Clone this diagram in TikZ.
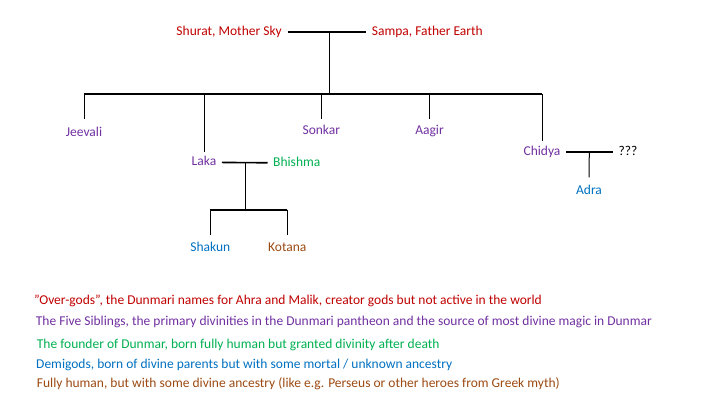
\documentclass[tikz,border=0pt]{standalone}
\usepackage{fontspec}
\setmainfont{Carlito}
\usetikzlibrary{calc}

\definecolor{overgod}{HTML}{C00000}
\definecolor{sibling}{HTML}{7030A0}
\definecolor{founder}{HTML}{00B050}
\definecolor{demigod}{HTML}{0070C0}
\definecolor{human}{HTML}{9C4A12}

\begin{document}
\begin{tikzpicture}[x=1pt, y=-1pt,
    every node/.style={font=\fontsize{13.5}{16}\selectfont, inner sep=1.5pt, text height=10pt, text depth=3pt},
    marriage/.style={line width=1.6pt, shorten <=4pt, shorten >=4pt},
    bar/.style={line width=1.6pt},
    drop/.style={line width=1pt, shorten >=4pt}]

    \useasboundingbox (0,0) rectangle (720,405);

    % Over-gods
    \node[overgod, anchor=east] (shurat) at (283.5,32) {Shurat, Mother Sky};
    \node[overgod, anchor=west] (sampa) at (370.2,32) {Sampa, Father Earth};
    \draw[marriage] (shurat) -- (sampa);

    \coordinate (skymid) at (329.3,32);
    \coordinate (sibbar) at (329.3,93.7);

    % The five siblings
    \node[sibling] (jeevali) at (84,132.7) {Jeevali};
    \node[sibling] (laka)    at (204,162.3) {Laka};
    \node[sibling] (sonkar)  at (321.3,130.7) {Sonkar};
    \node[sibling] (aagir)   at (429.5,130.7) {Aagir};
    \node[sibling] (chidya)  at (542,151.7) {Chidya};

    \draw[line width=1pt] (skymid) -- (sibbar);
    \draw[bar] (jeevali |- sibbar) -- (chidya |- sibbar);
    \foreach \sib/\gap in {jeevali/5.5pt, laka/2.5pt, sonkar/3.5pt, aagir/3.5pt, chidya/3pt}
        \draw[drop, shorten >=\gap] (\sib |- sibbar) -- (\sib.north);

    % Laka and Bhishma
    \node[founder, anchor=west] (bhishma) at (271.5,163) {Bhishma};
    \draw[marriage] (laka) -- (bhishma);

    \coordinate (lakamid) at (245.3,163);
    \coordinate (kidbar) at (245.3,209.7);
    \draw[line width=1.3pt] (lakamid) -- (kidbar);

    \node[demigod] (shakun) at (210.3,247.7) {Shakun};
    \node[human]   (kotana) at (287.3,247.7) {Kotana};
    \draw[bar] (shakun |- kidbar) -- (kotana |- kidbar);
    \draw[drop, line width=1.3pt, shorten >=4.4pt] (shakun |- kidbar) -- (shakun.north);
    \draw[drop, line width=1.3pt, shorten >=4.4pt] (kotana |- kidbar) -- (kotana.north);

    % Chidya and the unknown partner
    \node[anchor=west] (unknown) at (616.8,151.7) {???};
    \draw[marriage] (chidya) -- (unknown);

    \coordinate (chidyamid) at (589.3,151.7);
    \node[demigod] (adra) at (589,191) {Adra};
    \draw[drop, shorten >=5.5pt] (chidyamid) -- (adra.north);

    % Legend
    \node[overgod, anchor=west] (keyover)    at (32.5,300.7) {"Over-gods", the Dunmari names for Ahra and Malik, creator gods but not active in the world};
    \node[sibling, anchor=west] (keysibling) at (34.2,322.3) {The Five Siblings, the primary divinities in the Dunmari pantheon and the source of most divine magic in Dunmar};
    \node[founder, anchor=west] (keyfounder) at (35.2,345) {The founder of Dunmar, born fully human but granted divinity after death};
    \node[demigod, anchor=west] (keydemigod) at (34.5,365) {Demigods, born of divine parents but with some mortal / unknown ancestry};
    \node[human, anchor=west]   (keyhuman)   at (35.2,384.3) {Fully human, but with some divine ancestry (like e.g. Perseus or other heroes from Greek myth)};

\end{tikzpicture}
\end{document}
